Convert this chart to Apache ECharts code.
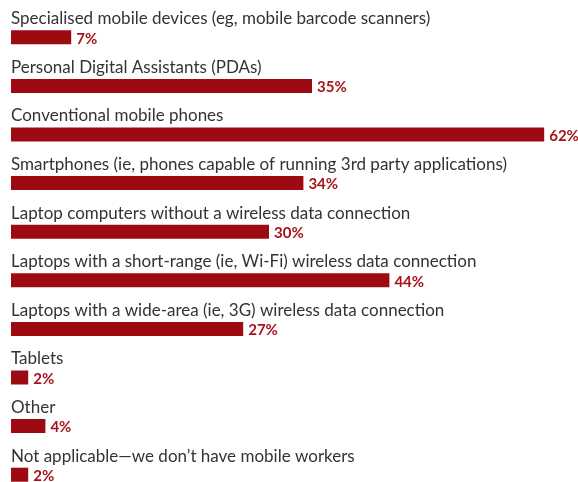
<!DOCTYPE html>
<html>
<head>
<meta charset="utf-8">
<style>
  html, body { margin: 0; padding: 0; background: #ffffff; overflow: hidden; }
  #chart { width: 578px; height: 500px; }
</style>
<script src="https://cdn.jsdelivr.net/npm/echarts@6/dist/echarts.min.js"></script>
</head>
<body>
<div id="chart"></div>
<script>
// Devices used by mobile workers, share of respondents (%)
const categories = [
  'Specialised mobile devices (eg, mobile barcode scanners)',
  'Personal Digital Assistants (PDAs)',
  'Conventional mobile phones',
  'Smartphones (ie, phones capable of running 3rd party applications)',
  'Laptop computers without a wireless data connection',
  'Laptops with a short-range (ie, Wi-Fi) wireless data connection',
  'Laptops with a wide-area (ie, 3G) wireless data connection',
  'Tablets',
  'Other',
  'Not applicable\u2014we don\u2019t have mobile workers'
];
const shares = [7, 35, 62, 34, 30, 44, 27, 2, 4, 2];

const BAR_RED = '#9d0a12';
const LABEL_RED = '#a8121c';
const TEXT_GREY = '#333333';
const FONT = 'Lato, "Noto Sans", sans-serif';

const chart = echarts.init(document.getElementById('chart'), null, { renderer: 'canvas' });

chart.setOption({
  animation: false,
  backgroundColor: '#ffffff',
  // the last row sits against the lower edge of the visible area
  grid: { left: 11, right: 8, top: 13, bottom: 1 },
  xAxis: {
    type: 'value',
    min: 0,
    max: 65,
    show: false
  },
  yAxis: {
    type: 'category',
    data: categories,
    inverse: true,
    show: false
  },
  series: [
    {
      // the bars, with their percentage to the right
      type: 'bar',
      data: shares,
      barWidth: 14,
      itemStyle: { color: BAR_RED },
      label: {
        show: true,
        position: 'right',
        distance: 5,
        offset: [0, 1.5],
        formatter: '{c}%',
        color: LABEL_RED,
        fontFamily: FONT,
        fontWeight: 'bold',
        fontSize: 15
      },
      z: 2
    },
    {
      // invisible twin bars carrying the category names above each bar
      type: 'bar',
      data: shares,
      barWidth: 14,
      barGap: '-100%',
      itemStyle: { color: 'rgba(0,0,0,0)' },
      label: {
        show: true,
        position: [0, -3],
        verticalAlign: 'bottom',
        align: 'left',
        formatter: '{b}',
        color: TEXT_GREY,
        fontFamily: FONT,
        fontSize: 17,
        lineHeight: 17
      },
      silent: true,
      z: 3
    }
  ]
});
</script>
</body>
</html>
